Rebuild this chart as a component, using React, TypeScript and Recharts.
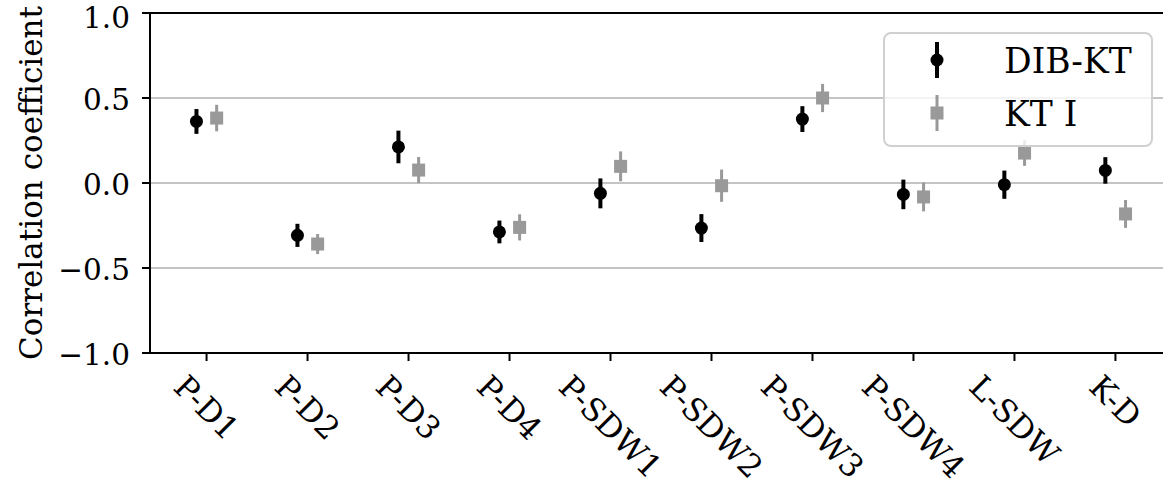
import React from 'react';
import { ScatterChart, Scatter, XAxis, YAxis, CartesianGrid, ErrorBar, ReferenceLine, Legend } from 'recharts';

const categories = ['P-D1', 'P-D2', 'P-D3', 'P-D4', 'P-SDW1', 'P-SDW2', 'P-SDW3', 'P-SDW4', 'L-SDW', 'K-D'];
const dibKtValues = [0.362, -0.308, 0.212, -0.288, -0.061, -0.265, 0.376, -0.067, -0.010, 0.074];
const dibKtErrors = [0.073, 0.068, 0.096, 0.067, 0.088, 0.082, 0.076, 0.087, 0.083, 0.078];
const ktIValues = [0.382, -0.359, 0.076, -0.261, 0.098, -0.016, 0.500, -0.082, 0.176, -0.182];
const ktIErrors = [0.078, 0.059, 0.077, 0.077, 0.088, 0.095, 0.083, 0.085, 0.075, 0.082];
const yTicks = [-1, -0.5, 0, 0.5, 1];
const seriesNames = ['DIB-KT', 'KT I'];

const FONT = 'DejaVu Serif, Noto Serif, serif';
const BLACK = '#000000';
const GRAY = '#999999';
const OFFSET = 0.1;
const YTICK_FS = 29.5;
const XTICK_FS = 31.5;

const dibData = categories.map((c, i) => ({ x: i - OFFSET, y: dibKtValues[i], err: dibKtErrors[i], name: c }));
const ktData = categories.map((c, i) => ({ x: i + OFFSET, y: ktIValues[i], err: ktIErrors[i], name: c }));
const xTicks = categories.map((_, i) => i);

let ctx: CanvasRenderingContext2D | null = null;
function textWidth(t: string, size: number) {
  if (!ctx) ctx = document.createElement('canvas').getContext('2d');
  if (!ctx) return t.length * size * 0.62;
  ctx.font = `${size}px "DejaVu Serif"`;
  return ctx.measureText(t).width;
}

function XTick(props: any) {
  const { x, y, payload } = props;
  const label = categories[payload.value] ?? '';
  const L = textWidth(label, XTICK_FS);
  const h = XTICK_FS * 0.8;
  const d = (L + h) / (2 * Math.SQRT2);
  const cx = x;
  const cy = y + 9 + d;
  return (
    <text
      x={cx}
      y={cy}
      transform={`rotate(45 ${cx} ${cy})`}
      textAnchor="middle"
      dominantBaseline="central"
      style={{ fontFamily: FONT }}
      fontSize={XTICK_FS}
      fill="#000"
    >
      {label}
    </text>
  );
}

function YTick(props: any) {
  const { x, y, payload } = props;
  const v = Number(payload.value);
  const s = (v < 0 ? '\u2212' : '') + Math.abs(v).toFixed(1);
  const ty = Math.max(y + 1.5, YTICK_FS * 0.62);
  return (
    <text x={x} y={ty} textAnchor="end" dominantBaseline="central" style={{ fontFamily: FONT }} fontSize={YTICK_FS} fill="#000">
      {s}
    </text>
  );
}

const Circle = (p: any) => <circle cx={p.cx} cy={p.cy} r={6.5} fill={BLACK} />;
const Square = (p: any) => <rect x={p.cx - 6.5} y={p.cy - 6.5} width={13} height={13} fill={GRAY} />;

function LegendBox() {
  const rows = [
    { name: seriesNames[0], color: BLACK, shape: 'circle', lw: 4 },
    { name: seriesNames[1], color: GRAY, shape: 'square', lw: 3 },
  ];
  return (
    <div
      style={{
        width: 270,
        height: 115,
        boxSizing: 'border-box',
        border: '2px solid #d0d0d0',
        borderRadius: 8,
        background: 'rgba(255,255,255,0.8)',
      }}
    >
      <svg width={266} height={111} style={{ display: 'block' }}>
        {rows.map((r, i) => {
          const cy = 26 + i * 53;
          const cx = 52;
          return (
            <g key={r.name}>
              <line x1={cx} x2={cx} y1={cy - 18} y2={cy + 18} stroke={r.color} strokeWidth={r.lw} />
              {r.shape === 'circle' ? (
                <circle cx={cx} cy={cy} r={6.5} fill={r.color} />
              ) : (
                <rect x={cx - 6.5} y={cy - 6.5} width={13} height={13} fill={r.color} />
              )}
              <text x={119} y={cy + 1} dominantBaseline="central" style={{ fontFamily: FONT }} fontSize={34.5} fill="#000">
                {r.name}
              </text>
            </g>
          );
        })}
      </svg>
    </div>
  );
}

export default function App() {
  return (
    <div style={{ position: 'absolute', left: 0, top: 0, width: 1163, height: 491, overflow: 'hidden', background: '#fff', fontFamily: FONT }}>
      <ScatterChart width={1180} height={491} margin={{ top: 13, right: 8, bottom: 0, left: 0 }}>
        <CartesianGrid horizontal vertical={false} stroke="#b0b0b0" strokeWidth={1.6} />
        <XAxis
          type="number"
          dataKey="x"
          domain={[-0.56, 9.56]}
          ticks={xTicks}
          interval={0}
          allowDataOverflow
          height={138}
          tick={<XTick />}
          tickSize={8}
          tickLine={{ stroke: '#000', strokeWidth: 2 }}
          axisLine={{ stroke: '#000', strokeWidth: 2 }}
        />
        <YAxis
          type="number"
          dataKey="y"
          domain={[-1, 1]}
          ticks={yTicks}
          interval={0}
          allowDataOverflow
          width={150}
          tick={<YTick />}
          tickSize={8}
          tickMargin={12}
          tickLine={{ stroke: '#000', strokeWidth: 2 }}
          axisLine={{ stroke: '#000', strokeWidth: 2 }}
          label={{
            value: 'Correlation coefficient',
            content: (p: any) => {
              const vb = p.viewBox || { x: 0, y: 13, width: 150, height: 340 };
              const cx = 41.5;
              const cy = vb.y + vb.height / 2;
              return (
                <text
                  x={cx}
                  y={cy}
                  transform={`rotate(-90 ${cx} ${cy})`}
                  textAnchor="middle"
                  style={{ fontFamily: FONT }}
                  fontSize={31}
                  fill="#000"
                >
                  Correlation coefficient
                </text>
              );
            },
          }}
        />
        <ReferenceLine y={1} stroke="#000" strokeWidth={2} />
        <ReferenceLine x={9.56} stroke="#000" strokeWidth={2} />
        <Scatter name={seriesNames[0]} data={dibData} fill={BLACK} shape={Circle} isAnimationActive={false}>
          <ErrorBar dataKey="err" direction="y" width={0} stroke={BLACK} strokeWidth={4} isAnimationActive={false} />
        </Scatter>
        <Scatter name={seriesNames[1]} data={ktData} fill={GRAY} shape={Square} isAnimationActive={false}>
          <ErrorBar dataKey="err" direction="y" width={0} stroke={GRAY} strokeWidth={3} isAnimationActive={false} />
        </Scatter>
        <Legend
          layout="vertical"
          align="center"
          verticalAlign="middle"
          wrapperStyle={{ position: 'absolute', left: 883, top: 32, width: 270, height: 115 }}
          content={() => <LegendBox />}
        />
      </ScatterChart>
    </div>
  );
}
